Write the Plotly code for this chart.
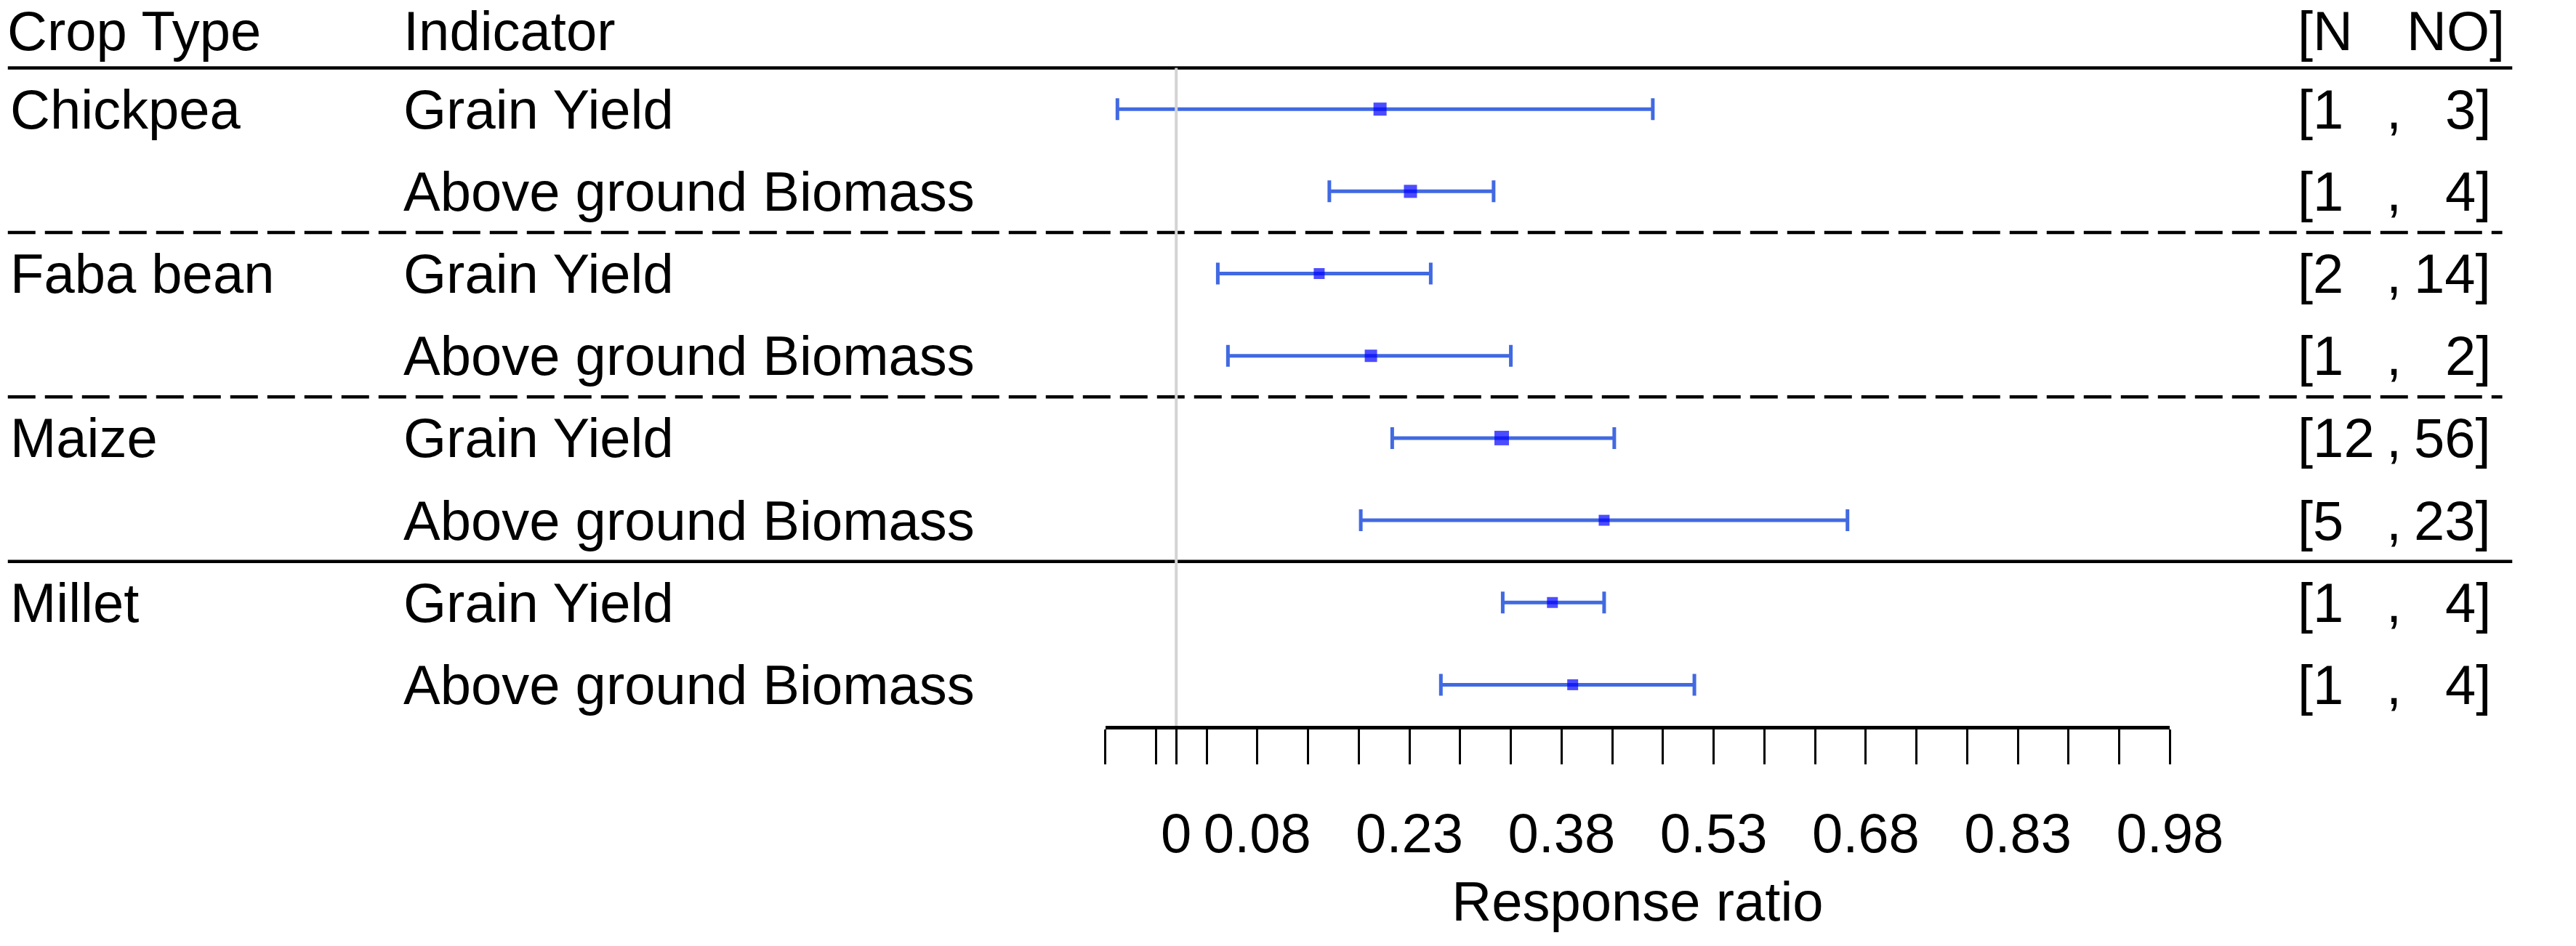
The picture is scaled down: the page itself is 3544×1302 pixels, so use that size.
import plotly.graph_objects as go

# forest plot data
crops = ["Chickpea", "Chickpea", "Faba bean", "Faba bean", "Maize", "Maize", "Millet", "Millet"]
indicators = ["Grain Yield", "Above ground Biomass"] * 4
rr = [0.201, 0.231, 0.141, 0.192, 0.321, 0.422, 0.371, 0.391]
ci_low = [-0.058, 0.151, 0.041, 0.051, 0.213, 0.182, 0.322, 0.261]
ci_high = [0.470, 0.313, 0.251, 0.330, 0.432, 0.662, 0.422, 0.511]
n_studies = [1, 1, 2, 1, 12, 5, 1, 1]
n_obs = [3, 4, 14, 2, 56, 23, 4, 4]

tick_vals = [-0.07, -0.02, 0, 0.03, 0.08, 0.13, 0.18, 0.23, 0.28, 0.33, 0.38, 0.43,
             0.48, 0.53, 0.58, 0.63, 0.68, 0.73, 0.78, 0.83, 0.88, 0.93, 0.98]
tick_labels = ["0", "0.08", "0.23", "0.38", "0.53", "0.68", "0.83", "0.98"]

W, H = 3544, 1302
FONT = "Arial, Liberation Sans, sans-serif"
FS = 76

rows = list(range(1, len(rr) + 1))
err_plus = [h - m for h, m in zip(ci_high, rr)]
err_minus = [m - l for m, l in zip(rr, ci_low)]
box_px = [18, 18, 15, 17, 20, 15, 15, 15]

fig = go.Figure()
fig.add_trace(go.Scatter(
    x=rr, y=rows, mode="markers",
    marker=dict(symbol="square", color="#0000FF", size=box_px, line=dict(width=0)),
    error_x=dict(type="data", symmetric=False, array=err_plus, arrayminus=err_minus,
                 color="#4169E1", thickness=5, width=15),
    showlegend=False, hoverinfo="skip",
))

label_vals = [float(t) for t in tick_labels]
ticktext = [tick_labels[label_vals.index(v)] if v in label_vals else "" for v in tick_vals]

# text table
ann = []
def txt(x, y, s, anchor="left"):
    ann.append(dict(x=x / W, xref="paper", y=y, yref="y", text=s, showarrow=False,
                    xanchor=anchor, yanchor="middle",
                    font=dict(family=FONT, size=FS, color="black")))

txt(8, 0.05, "Crop Type")
txt(565, 0.05, "Indicator")
txt(3226, 0.05, "[N")
txt(3522, 0.05, "NO]", "right")
prev = None
for r, c, ind, n, no in zip(rows, crops, indicators, n_studies, n_obs):
    if c != prev:
        txt(12, r, c)
        prev = c
    txt(565, r, ind)
    txt(3226, r, "[" + str(n))
    txt(3364, r, ",", "center")
    txt(3502, r, str(no) + "]", "right")

shapes = []
# group separators
for yv, dash, x1 in [(0.5, "solid", 3530), (2.5, "38px,13px", 3516), (4.5, "38px,13px", 3516), (6.5, "solid", 3530)]:
    shapes.append(dict(type="line", xref="paper", yref="y", x0=11 / W, x1=x1 / W, y0=yv, y1=yv,
                       line=dict(color="black", width=4.5, dash=dash)))
# no-effect line
shapes.append(dict(type="line", xref="x", yref="y", x0=0, x1=0, y0=0.5, y1=8.5,
                   line=dict(color="#D3D3D3", width=4), layer="above"))

fig.update_layout(
    width=W, height=H,
    margin=dict(l=0, r=0, t=0, b=0),
    plot_bgcolor="white", paper_bgcolor="white",
    font=dict(family=FONT, size=FS, color="black"),
    annotations=ann, shapes=shapes,
    xaxis=dict(domain=[1553 / W, 3049 / W], range=[-0.07, 0.98],
               showgrid=False, zeroline=False, showline=True, linecolor="black", linewidth=5,
               ticks="outside", ticklen=48, tickwidth=3, tickcolor="black",
               tickmode="array", tickvals=tick_vals, ticktext=ticktext,
               ticklabelstandoff=30,
               tickfont=dict(family=FONT, size=FS, color="black"),
               title=dict(text="Response ratio", standoff=27,
                          font=dict(family=FONT, size=FS, color="black"))),
    yaxis=dict(domain=[(H - 999) / H, 1], range=[8.5, -0.327],
               visible=False, showgrid=False, zeroline=False),
)

fig.write_html("out.html", config={"displayModeBar": False},
               post_script="document.body.style.margin='0';document.body.style.overflow='hidden';")
